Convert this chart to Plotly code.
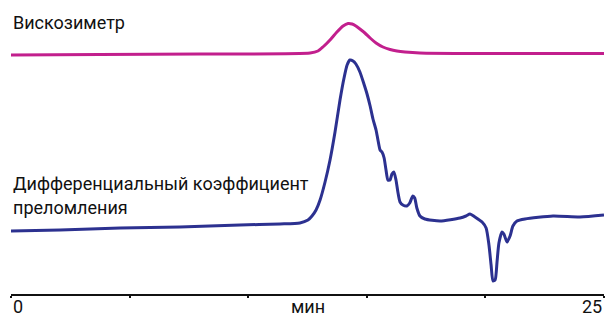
import plotly.graph_objects as go

# Refractive index detector trace (time in min, signal in arbitrary units)
ri_time = [0, 2.07, 4.60, 7.12, 9.65, 11.34, 12.18, 12.52, 12.69, 12.86, 13.03, 13.24, 13.45,
           13.66, 13.87, 14.04, 14.17, 14.29, 14.42, 14.54, 14.71, 14.88, 15.01, 15.14, 15.26,
           15.39, 15.47, 15.56, 15.64, 15.73, 15.81, 15.89, 15.98, 16.06, 16.14, 16.23, 16.31,
           16.40, 16.52, 16.69, 16.81, 16.94, 17.02, 17.11, 17.24, 17.45, 18.09, 18.93, 19.18,
           19.35, 19.56, 19.86, 20.03, 20.15, 20.24, 20.32, 20.41, 20.49, 20.57, 20.70, 20.78,
           20.91, 21.04, 21.16, 21.33, 21.67, 22.85, 23.99, 25.0]
ri_signal = [63, 64, 66, 67, 69, 70, 71, 74, 78, 84, 94, 112, 134,
             162, 194, 216, 229, 234, 233, 230, 222, 210, 200, 188, 175,
             164, 154, 144, 142, 136, 124, 114, 114, 120, 122, 114, 102,
             92, 89, 88, 91, 98, 96, 86, 78, 75, 73, 76, 78,
             80, 77, 72, 66, 49, 29, 13, 14, 32, 51, 62, 60,
             52, 58, 68, 73, 75, 78, 77, 79]

# Viscometer trace
visc_time = [0, 3.75, 7.97, 12.61, 12.94, 13.15, 13.45, 13.74, 14.00, 14.21, 14.38, 14.54,
             14.71, 14.92, 15.14, 15.39, 15.68, 15.98, 16.27, 16.61, 17.24, 19.77, 25.0]
visc_signal = [239, 239.5, 240, 241, 243, 247, 254, 262, 268, 270.5, 270, 268,
               265, 261, 256, 251, 247, 244.5, 243, 242, 241, 240.5, 240.5]

x_ticks = [0, 5, 10, 15, 20, 25]
label_visc = "Вискозиметр"
label_ri_1 = "Дифференциальный коэффициент"
label_ri_2 = "преломления"
axis_title = "мин"

FONT = "Roboto"
TXT = "#111111"
FS = 18

fig = go.Figure()
fig.add_trace(go.Scatter(x=visc_time, y=visc_signal, mode="lines",
                         line=dict(color="#c21f8d", width=3, shape="spline", smoothing=0.6),
                         hoverinfo="skip"))
fig.add_trace(go.Scatter(x=ri_time, y=ri_signal, mode="lines",
                         line=dict(color="#2c3190", width=3, shape="spline", smoothing=0.6),
                         hoverinfo="skip"))

ann = [
    dict(x=0, y=272, text=label_visc, xanchor="left", yanchor="middle", yref="y"),
    dict(x=0, y=111, text=label_ri_1, xanchor="left", yanchor="middle", yref="y"),
    dict(x=0, y=87, text=label_ri_2, xanchor="left", yanchor="middle", yref="y"),
    dict(x=0, y=-0.041, text=str(x_ticks[0]), xanchor="left", yanchor="middle", yref="paper"),
    dict(x=x_ticks[-1], y=-0.041, text=str(x_ticks[-1]), xanchor="right", yanchor="middle", yref="paper"),
    dict(x=12.5, y=-0.041, text=axis_title, xanchor="center", yanchor="middle", yref="paper"),
]
for a in ann:
    a.update(xref="x", showarrow=False, font=dict(family=FONT, size=FS, color=TXT))

fig.update_layout(
    width=607, height=322,
    margin=dict(l=11, r=3, t=0, b=28),
    paper_bgcolor="white", plot_bgcolor="white",
    showlegend=False,
    annotations=ann,
    xaxis=dict(range=[0, 25], tickvals=x_ticks, showticklabels=False, ticks="outside",
               ticklen=2, tickwidth=2, tickcolor="#111", showline=True, linecolor="#111",
               linewidth=2, showgrid=False, zeroline=False, fixedrange=True),
    yaxis=dict(range=[0, 294], visible=False, showgrid=False, zeroline=False, fixedrange=True),
)

fig.write_html("out.html", config={"displayModeBar": False})
